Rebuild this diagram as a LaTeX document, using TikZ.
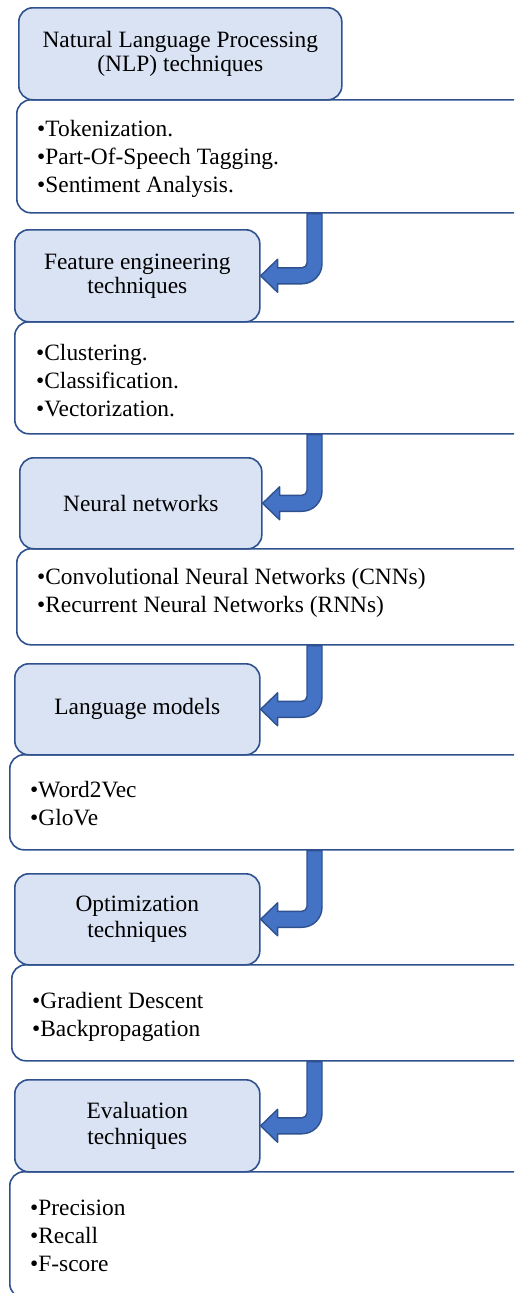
\documentclass[tikz,border=0pt]{standalone}
\usepackage{fontspec}
\setmainfont{Liberation Serif}
\usetikzlibrary{calc}
\definecolor{bordc}{HTML}{2F528F}
\definecolor{titlec}{HTML}{DAE3F3}
\definecolor{arrowc}{HTML}{4472C4}
\tikzset{
  titlebox/.style={draw=bordc, fill=titlec, line width=1.6pt, rounded corners=14pt,
    align=center, inner sep=0pt, anchor=north west,
    font=\fontsize{23.4pt}{26pt}\selectfont},
  listbox/.style={draw=bordc, fill=white, line width=1.6pt, rounded corners=14pt,
    inner sep=0pt, anchor=north west},
  listtext/.style={anchor=base west, align=left, inner sep=0pt,
    font=\fontsize{23.4pt}{28pt}\selectfont},
  bendarrowstyle/.style={draw=bordc, fill=arrowc, line width=1.4pt, line join=round}
}
\newcommand\bendarrow[2]{%
  \path[bendarrowstyle] let \p1=(#1.south), \p2=(#2.east) in
  (307pt,\y1) -- (307pt,\y2+13pt) arc[start angle=0,end angle=-90,radius=5pt]
  -- (\x2+17pt,\y2+8pt) -- (\x2+17pt,\y2+16.5pt) -- (\x2,\y2) -- (\x2+17pt,\y2-16.5pt)
  -- (\x2+17pt,\y2-8pt) -- (302pt,\y2-8pt) arc[start angle=-90,end angle=0,radius=20pt]
  -- (322pt,\y1) -- cycle;}
\begin{document}
\begin{tikzpicture}[x=1pt,y=1pt]
\useasboundingbox (0,0) rectangle (514,-1293);
\clip (0,0) rectangle (514,-1293);
% section 1
\node[listbox, minimum width=530pt, minimum height=113pt] (c1) at (16,-99) {};
\node[titlebox, minimum width=323pt, minimum height=92pt] (t1) at (18,-7) {\raisebox{-3pt}{\begin{tabular}{@{}c@{}}Natural Language Processing\\[-2pt](NLP) techniques\end{tabular}}};
\node[listtext] (l1) at (37,-192) {•Tokenization.\\•Part-Of-Speech Tagging.\\•Sentiment Analysis.};
% section 2
\node[listbox, minimum width=532pt, minimum height=112pt] (c2) at (14,-321) {};
\node[titlebox, minimum width=245pt, minimum height=92pt] (t2) at (14,-229) {\raisebox{-2pt}{\begin{tabular}{@{}c@{}}Feature engineering\\[-2pt]techniques\end{tabular}}};
\node[listtext] (l2) at (36,-416) {•Clustering.\\•Classification.\\•Vectorization.};
% section 3
\node[listbox, minimum width=530pt, minimum height=96pt] (c3) at (16,-548) {};
\node[titlebox, minimum width=242pt, minimum height=91pt] (t3) at (19,-457) {Neural networks};
\node[listtext] (l3) at (37,-612) {•Convolutional Neural Networks (CNNs)\\•Recurrent Neural Networks (RNNs)};
% section 4
\node[listbox, minimum width=537pt, minimum height=95pt] (c4) at (9,-754) {};
\node[titlebox, minimum width=245pt, minimum height=91pt] (t4) at (14,-663) {Language models};
\node[listtext] (l4) at (30,-825) {•Word2Vec\\•GloVe};
% section 5
\node[listbox, minimum width=535pt, minimum height=96pt] (c5) at (11,-964) {};
\node[titlebox, minimum width=245pt, minimum height=91pt] (t5) at (14,-873) {Optimization\\techniques};
\node[listtext] (l5) at (32,-1036) {•Gradient Descent\\•Backpropagation};
% section 6
\node[listbox, minimum width=537pt, minimum height=126pt] (c6) at (9,-1171) {};
\node[titlebox, minimum width=245pt, minimum height=92pt] (t6) at (14,-1079) {Evaluation\\techniques};
\node[listtext] (l6) at (30,-1271) {•Precision\\•Recall\\•F-score};
% arrows
\bendarrow{c1}{t2}
\bendarrow{c2}{t3}
\bendarrow{c3}{t4}
\bendarrow{c4}{t5}
\bendarrow{c5}{t6}
\end{tikzpicture}
\end{document}
